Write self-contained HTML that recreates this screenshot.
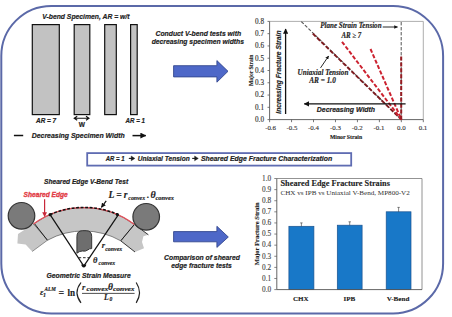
<!DOCTYPE html>
<html><head><meta charset="utf-8">
<style>
html,body{margin:0;padding:0;background:#fff;width:452px;height:317px;overflow:hidden}
svg{display:block}
.sbi{font-family:"Liberation Sans",sans-serif;font-weight:bold;font-style:italic;fill:#222;stroke:#222;stroke-width:0.18}
.ser{font-family:"Liberation Serif",serif;fill:#333}
.serb{font-family:"Liberation Serif",serif;font-weight:bold;fill:#222;stroke:#222;stroke-width:0.12}
.serbi{font-family:"Liberation Serif",serif;font-weight:bold;font-style:italic;fill:#222;stroke:#222;stroke-width:0.15}
</style></head><body>
<svg width="452" height="317" viewBox="0 0 452 317">
<defs>
<marker id="ah" viewBox="0 0 10 10" refX="9" refY="5" markerWidth="4" markerHeight="4" orient="auto-start-reverse"><path d="M0,0 L10,5 L0,10 z" fill="#111"/></marker>
<marker id="ahr" viewBox="0 0 10 10" refX="9" refY="5" markerWidth="4" markerHeight="4" orient="auto"><path d="M0,0 L10,5 L0,10 z" fill="#c8283a"/></marker>
</defs>
<!-- outer frame -->
<rect x="1.3" y="6" width="441.8" height="307.4" rx="50" ry="50" fill="none" stroke="#5b69a8" stroke-width="2"/>

<!-- ===== top-left specimens ===== -->
<text class="sbi" x="42.2" y="19.4" font-size="7" textLength="87.3" lengthAdjust="spacingAndGlyphs">V-bend Specimen, AR = w/t</text>
<g fill="#c2c2c2" stroke="#111" stroke-width="1.2">
<rect x="32.3" y="24.6" width="27" height="90"/>
<rect x="74.2" y="24.6" width="15.6" height="90"/>
<rect x="104.7" y="24.6" width="11.6" height="90"/>
<rect x="130.6" y="24.6" width="6.6" height="90"/>
</g>
<text class="sbi" x="36" y="123.3" font-size="6.5" textLength="20.2" lengthAdjust="spacingAndGlyphs">AR = 7</text>
<text class="sbi" x="125.5" y="123.2" font-size="6.5" textLength="19.4" lengthAdjust="spacingAndGlyphs">AR = 1</text>
<text class="sbi" x="78.8" y="126.9" font-size="6.5" textLength="6.2" lengthAdjust="spacingAndGlyphs" style="font-style:normal">W</text>
<path d="M74.2,118.2 L89,118.2 M77.2,116.2 L74.2,118.2 L77.2,120.2 M86,116.2 L89,118.2 L86,120.2" fill="none" stroke="#111" stroke-width="1.1"/>
<text class="sbi" x="31.7" y="137.9" font-size="7" textLength="93.1" lengthAdjust="spacingAndGlyphs">Decreasing Specimen Width</text>
<line x1="13.9" y1="135.5" x2="23.2" y2="135.5" stroke="#111" stroke-width="1.5"/>
<line x1="132.5" y1="135.6" x2="145.8" y2="135.6" stroke="#111" stroke-width="1.5" marker-end="url(#ah)"/>

<!-- ===== middle-top text & arrow ===== -->
<text class="sbi" x="155.5" y="35.7" font-size="7" textLength="85.7" lengthAdjust="spacingAndGlyphs">Conduct V-bend tests with</text>
<text class="sbi" x="151.7" y="43.8" font-size="7" textLength="92.3" lengthAdjust="spacingAndGlyphs">decreasing specimen widths</text>
<path d="M173.6,65.7 L216.9,65.7 L216.9,60.6 L228,71.3 L216.9,82.2 L216.9,76.9 L173.6,76.9 Z" fill="#4e68c8" stroke="#34488f" stroke-width="0.9"/>

<!-- ===== top-right chart ===== -->
<g id="chart1">
<line x1="269.6" y1="21.4" x2="423.3" y2="21.4" stroke="#999" stroke-width="0.8"/>
<line x1="423.3" y1="21.4" x2="423.3" y2="119.6" stroke="#999" stroke-width="0.8"/>
<line x1="269.6" y1="21.4" x2="269.6" y2="119.6" stroke="#555" stroke-width="0.9"/>
<line x1="269.6" y1="119.6" x2="423.3" y2="119.6" stroke="#555" stroke-width="0.9"/>
<g stroke="#555" stroke-width="0.8">
<line x1="267.5" y1="21.4" x2="269.6" y2="21.4"/>
<line x1="267.5" y1="33.67" x2="269.6" y2="33.67"/>
<line x1="267.5" y1="45.95" x2="269.6" y2="45.95"/>
<line x1="267.5" y1="58.22" x2="269.6" y2="58.22"/>
<line x1="267.5" y1="70.5" x2="269.6" y2="70.5"/>
<line x1="267.5" y1="82.77" x2="269.6" y2="82.77"/>
<line x1="267.5" y1="95.05" x2="269.6" y2="95.05"/>
<line x1="267.5" y1="107.32" x2="269.6" y2="107.32"/>
<line x1="267.5" y1="119.6" x2="269.6" y2="119.6"/>
<line x1="269.6" y1="119.6" x2="269.6" y2="122.2"/>
<line x1="291.56" y1="119.6" x2="291.56" y2="122.2"/>
<line x1="313.51" y1="119.6" x2="313.51" y2="122.2"/>
<line x1="335.47" y1="119.6" x2="335.47" y2="122.2"/>
<line x1="357.43" y1="119.6" x2="357.43" y2="122.2"/>
<line x1="379.39" y1="119.6" x2="379.39" y2="122.2"/>
<line x1="401.34" y1="119.6" x2="401.34" y2="122.2"/>
<line x1="423.3" y1="119.6" x2="423.3" y2="122.2"/>
</g>
<g class="ser" font-size="7.2" text-anchor="end" style="stroke:#333;stroke-width:0.15">
<text x="264" y="23.7">0.8</text>
<text x="264" y="35.97">0.7</text>
<text x="264" y="48.25">0.6</text>
<text x="264" y="60.52">0.5</text>
<text x="264" y="72.8">0.4</text>
<text x="264" y="85.07">0.3</text>
<text x="264" y="97.35">0.2</text>
<text x="264" y="109.62">0.1</text>
<text x="264" y="121.9">0.0</text>
</g>
<g class="ser" font-size="6.9" text-anchor="middle" style="stroke:#333;stroke-width:0.12">
<text x="270.6" y="130">-0.6</text>
<text x="292.0" y="130">-0.5</text>
<text x="313.5" y="130">-0.4</text>
<text x="335.4" y="130">-0.3</text>
<text x="357.3" y="130">-0.2</text>
<text x="379.0" y="130">-0.1</text>
<text x="401.3" y="130">0.0</text>
<text x="423.0" y="130">0.1</text>
</g>
<text class="serb" x="329.9" y="138.5" font-size="5.9" textLength="32.2" lengthAdjust="spacingAndGlyphs">Minor Strain</text>
<text class="serb" transform="translate(252.8,86) rotate(-90)" font-size="5.8" textLength="31.4" lengthAdjust="spacingAndGlyphs">Major Strain</text>

<!-- dashed reference lines -->
<line x1="301.3" y1="21.6" x2="401.4" y2="119.6" stroke="#555" stroke-width="1.1" stroke-dasharray="3.4,1.6"/>
<line x1="401.2" y1="22" x2="401.2" y2="119.6" stroke="#555" stroke-width="1" stroke-dasharray="3.4,1.6"/>
<line x1="312.8" y1="33.6" x2="401.4" y2="119.6" stroke="#7e1c20" stroke-width="1.9" stroke-dasharray="4.2,1.8"/>
<g stroke="#cc2230" stroke-width="2" stroke-dasharray="4,1.9" fill="none">
<line x1="342" y1="41.8" x2="401.4" y2="119.6"/>
<line x1="370.5" y1="49" x2="401.4" y2="119.6"/>
<line x1="401.2" y1="56.5" x2="401.2" y2="119.6" stroke="#961c22"/>
</g>
<text class="serbi" x="320.2" y="28.4" font-size="7.4" textLength="61.4" lengthAdjust="spacingAndGlyphs">Plane Strain Tension</text>
<line x1="382.7" y1="27" x2="397.5" y2="27" stroke="#111" stroke-width="0.9" marker-end="url(#ah)"/>
<text class="serbi" x="341.4" y="37.7" font-size="7.4" textLength="19.8" lengthAdjust="spacingAndGlyphs">AR ≥ 7</text>
<text class="serbi" x="297.5" y="74.5" font-size="7.4" textLength="50.9" lengthAdjust="spacingAndGlyphs">Uniaxial Tension</text>
<text class="serbi" x="309.2" y="83.3" font-size="7.4" textLength="26.6" lengthAdjust="spacingAndGlyphs">AR = 1.0</text>
<line x1="320.5" y1="67.9" x2="328.6" y2="56" stroke="#111" stroke-width="0.9" marker-end="url(#ah)"/>

<text class="sbi" transform="translate(280.6,113.7) rotate(-90)" font-size="7" textLength="83.2" lengthAdjust="spacingAndGlyphs">Increasing Fracture Strain</text>
<line x1="285.6" y1="114" x2="285.6" y2="29" stroke="#111" stroke-width="1.3" marker-end="url(#ah)"/>
<line x1="405.6" y1="103.9" x2="304.3" y2="103.9" stroke="#111" stroke-width="1.3" marker-end="url(#ah)"/>
<text class="sbi" x="316.8" y="112.3" font-size="6.7" textLength="58.3" lengthAdjust="spacingAndGlyphs">Decreasing Width</text>
</g>

<!-- ===== banner ===== -->
<rect x="87.2" y="153.1" width="264" height="12.5" fill="none" stroke="#5f6cb2" stroke-width="1.8"/>
<text class="sbi" x="105.8" y="161.2" font-size="6.3" textLength="18.8" lengthAdjust="spacingAndGlyphs">AR = 1</text>
<text class="sbi" x="137.7" y="161.2" font-size="6.3" textLength="52" lengthAdjust="spacingAndGlyphs">Uniaxial Tension</text>
<text class="sbi" x="200.9" y="161.2" font-size="6.3" textLength="131.3" lengthAdjust="spacingAndGlyphs">Sheared Edge Fracture Characterization</text>
<g fill="#1a1a1a" stroke="#1a1a1a" stroke-width="1.1">
<line x1="128.8" y1="158.4" x2="132.5" y2="158.4"/><path d="M131.2,156 L134.9,158.4 L131.2,160.8 Z" stroke-width="0.4"/>
<line x1="192.2" y1="158.4" x2="195.9" y2="158.4"/><path d="M194.6,156 L198.3,158.4 L194.6,160.8 Z" stroke-width="0.4"/>
</g>

<!-- ===== bottom-left diagram ===== -->
<text class="sbi" x="44" y="184.1" font-size="6.6" textLength="84.1" lengthAdjust="spacingAndGlyphs">Sheared Edge V-Bend Test</text>
<text class="sbi" x="23.6" y="197.3" font-size="6.6" textLength="44.1" lengthAdjust="spacingAndGlyphs" style="fill:#e23a44;stroke:#e23a44;stroke-width:0.3">Sheared Edge</text>
<line x1="44.6" y1="199.3" x2="44.6" y2="216.6" stroke="#c8283a" stroke-width="1.2" marker-end="url(#ahr)"/>

<!-- band extensions -->
<path d="M33.5,224 L18,234 L17.4,243.6 L25.6,244.5 L32.2,251.5 L47.5,240.2 Z" fill="#c6c6c6"/>
<path d="M134.5,224.5 L148.4,234.8 L143.4,236.3 L142,242 L144,248.3 L135,252 L120.7,240.8 Z" fill="#c6c6c6"/>
<line x1="134.5" y1="224.5" x2="148.4" y2="234.8" stroke="#222" stroke-width="0.9"/>
<line x1="120.7" y1="240.8" x2="135" y2="252" stroke="#222" stroke-width="0.9"/>
<line x1="47.5" y1="240.2" x2="32.2" y2="251.5" stroke="#555" stroke-width="0.6"/>
<!-- main band -->
<path d="M33.5,224 A85,85 0 0,1 134.5,224.5 L120.7,240.8 A75,75 0 0,0 47.5,240.2 Z" fill="#c6c6c6" stroke="#555" stroke-width="0.7"/>
<line x1="34.6" y1="223.8" x2="47.4" y2="240.2" stroke="#111" stroke-width="0.9"/>
<line x1="134" y1="224.8" x2="120.9" y2="240.7" stroke="#111" stroke-width="0.9"/>
<path d="M33.5,224 A85,85 0 0,1 134.5,224.5" fill="none" stroke="#e4505a" stroke-width="1.3"/>
<path d="M50.1,214.5 A85,85 0 0,1 117.7,214.3" fill="none" stroke="#111" stroke-width="1.5" stroke-dasharray="2.8,1.7"/>
<!-- rollers -->
<circle cx="21.5" cy="215.8" r="13.3" fill="#7a7a7a" stroke="#333" stroke-width="1.2"/>
<circle cx="146.2" cy="216.8" r="13.3" fill="#7a7a7a" stroke="#333" stroke-width="1.2"/>
<!-- punch -->
<path d="M76.9,253.2 L76.9,236.5 Q76.9,230.7 82.5,230.7 L86.2,230.7 Q91.7,230.7 91.7,236.5 L91.7,248.6 Q89.5,248.4 88,249.8 Q85.5,251.8 82.5,251 Q79.5,251 76.9,253.2 Z" fill="#6e6e6e" stroke="#2a2a2a" stroke-width="0.9"/>
<!-- V lines -->
<line x1="50.1" y1="214.7" x2="83.8" y2="266.2" stroke="#111" stroke-width="1.2"/>
<line x1="118.4" y1="214.7" x2="83.8" y2="266.2" stroke="#111" stroke-width="1.2"/>
<circle cx="50.1" cy="214.7" r="1.6" fill="#111"/>
<circle cx="117.4" cy="214.6" r="1.6" fill="#111"/>
<path d="M81.3,264.6 L86.3,264.6 Q86,267.4 83.8,267.4 Q81.6,267.4 81.3,264.6 Z" fill="#111"/>
<line x1="78.6" y1="257.7" x2="89" y2="257.7" stroke="#111" stroke-width="0.9" stroke-dasharray="2.6,1.8"/>
<text class="serbi" x="101.8" y="248.3" font-size="8.5">r</text>
<text class="serbi" x="105.2" y="250.6" font-size="6" textLength="17" lengthAdjust="spacingAndGlyphs">convex</text>
<text class="serbi" x="93.1" y="262.6" font-size="8.5">θ</text>
<text class="serbi" x="98.6" y="264.8" font-size="6" textLength="16.6" lengthAdjust="spacingAndGlyphs">convex</text>
<!-- L label -->
<text class="serbi" x="108.6" y="198.4" font-size="9.6">L</text>
<text class="serbi" x="116.2" y="198.4" font-size="9.6">=</text>
<text class="serbi" x="123.7" y="198.4" font-size="9.6">r</text>
<text class="serbi" x="128.3" y="199.8" font-size="6.2" textLength="16.8" lengthAdjust="spacingAndGlyphs">convex</text>
<text class="serbi" x="147" y="198.3" font-size="9.2">.</text>
<text class="serbi" x="150.6" y="198.3" font-size="10">θ</text>
<text class="serbi" x="155.4" y="199.8" font-size="6.2" textLength="18.6" lengthAdjust="spacingAndGlyphs">convex</text>
<line x1="106.2" y1="200.9" x2="101.4" y2="207.4" stroke="#111" stroke-width="1.2" marker-end="url(#ah)"/>

<text class="sbi" x="46.5" y="278.2" font-size="6.6" textLength="84.2" lengthAdjust="spacingAndGlyphs">Geometric Strain Measure</text>
<!-- formula -->
<text class="serbi" x="40" y="295.2" font-size="8.5">ε</text>
<text class="serbi" x="43.1" y="296.8" font-size="6">1</text>
<text class="serbi" x="44.6" y="291.4" font-size="5.4" textLength="11.3" lengthAdjust="spacingAndGlyphs">ALM</text>
<text class="serb" x="58.4" y="295.7" font-size="10">=</text>
<text class="serb" x="67.6" y="295.7" font-size="10" textLength="7.6" lengthAdjust="spacingAndGlyphs">ln</text>
<path d="M81,282.5 Q73,292.6 81,302.8" fill="none" stroke="#222" stroke-width="1.2"/>
<path d="M136.2,282.5 Q142.8,292.6 136.2,302.8" fill="none" stroke="#222" stroke-width="1.2"/>
<line x1="82" y1="293.4" x2="134.6" y2="293.4" stroke="#222" stroke-width="0.8"/>
<text class="serbi" x="82" y="289.6" font-size="8.5">r</text>
<text class="serbi" x="86.6" y="290.8" font-size="5.8" textLength="21.7" lengthAdjust="spacingAndGlyphs">convex</text>
<text class="serbi" x="107.9" y="289.9" font-size="9.5">θ</text>
<text class="serbi" x="113" y="290.8" font-size="5.8" textLength="21.6" lengthAdjust="spacingAndGlyphs">convex</text>
<text class="serbi" x="104" y="299.8" font-size="7.8">L</text>
<text class="serbi" x="109.6" y="301.2" font-size="5.6">0</text>

<!-- bottom middle arrow -->
<path d="M173.6,231.6 L216.9,231.6 L216.9,226.3 L228.3,237 L216.9,247.4 L216.9,241.8 L173.6,241.8 Z" fill="#4e68c8" stroke="#34488f" stroke-width="0.9"/>
<text class="sbi" x="164.1" y="259.8" font-size="7" textLength="75.8" lengthAdjust="spacingAndGlyphs">Comparison of sheared</text>
<text class="sbi" x="171.3" y="268.2" font-size="7" textLength="60.5" lengthAdjust="spacingAndGlyphs">edge fracture tests</text>

<!-- ===== bottom-right bar chart ===== -->
<g id="chart2">
<line x1="276.8" y1="178.5" x2="422" y2="178.5" stroke="#777" stroke-width="0.8"/>
<line x1="422" y1="178.5" x2="422" y2="289.6" stroke="#777" stroke-width="0.8"/>
<g fill="#1878c8" stroke="#1a5290" stroke-width="0.7">
<rect x="288.9" y="226.3" width="25" height="63.3"/>
<rect x="337.3" y="225.2" width="24.8" height="64.4"/>
<rect x="386.2" y="211.8" width="24.8" height="77.8"/>
</g>
<line x1="276.8" y1="178.5" x2="276.8" y2="289.6" stroke="#555" stroke-width="0.9"/>
<line x1="276.8" y1="289.6" x2="422" y2="289.6" stroke="#555" stroke-width="0.9"/>
<g stroke="#555" stroke-width="0.7">
<line x1="274.3" y1="178.5" x2="276.8" y2="178.5"/>
<line x1="274.3" y1="189.61" x2="276.8" y2="189.61"/>
<line x1="274.3" y1="200.72" x2="276.8" y2="200.72"/>
<line x1="274.3" y1="211.83" x2="276.8" y2="211.83"/>
<line x1="274.3" y1="222.94" x2="276.8" y2="222.94"/>
<line x1="274.3" y1="234.05" x2="276.8" y2="234.05"/>
<line x1="274.3" y1="245.16" x2="276.8" y2="245.16"/>
<line x1="274.3" y1="256.27" x2="276.8" y2="256.27"/>
<line x1="274.3" y1="267.38" x2="276.8" y2="267.38"/>
<line x1="274.3" y1="278.49" x2="276.8" y2="278.49"/>
<line x1="274.3" y1="289.6" x2="276.8" y2="289.6"/>
</g>
<g stroke="#333" stroke-width="0.6">
<line x1="301.4" y1="226.3" x2="301.4" y2="222.9"/><line x1="300.2" y1="222.9" x2="302.6" y2="222.9"/>
<line x1="349.7" y1="225.2" x2="349.7" y2="221.8"/><line x1="348.5" y1="221.8" x2="350.9" y2="221.8"/>
<line x1="398.6" y1="211.8" x2="398.6" y2="207.4"/><line x1="397.4" y1="207.4" x2="399.8" y2="207.4"/>
</g>
<g class="ser" font-size="7.3" text-anchor="end" style="fill:#444;stroke:#444;stroke-width:0.12">
<text x="271.2" y="180.8">1.0</text>
<text x="271.2" y="191.91">0.9</text>
<text x="271.2" y="203.02">0.8</text>
<text x="271.2" y="214.13">0.7</text>
<text x="271.2" y="225.24">0.6</text>
<text x="271.2" y="236.35">0.5</text>
<text x="271.2" y="247.46">0.4</text>
<text x="271.2" y="258.57">0.3</text>
<text x="271.2" y="269.68">0.2</text>
<text x="271.2" y="280.79">0.1</text>
<text x="271.2" y="291.9">0.0</text>
</g>
<text class="serb" x="280.5" y="186.4" font-size="8.2" textLength="109.4" lengthAdjust="spacingAndGlyphs">Sheared Edge Fracture Strains</text>
<text class="ser" x="280.5" y="195.3" font-size="6.7" textLength="129.3" lengthAdjust="spacingAndGlyphs" style="fill:#333">CHX vs IPB vs Uniaxial V-Bend, MP800-V2</text>
<g class="serb" font-size="7.1" text-anchor="middle">
<text x="300.8" y="301.4">CHX</text>
<text x="349.4" y="301.4">IPB</text>
<text x="398" y="301.4">V-Bend</text>
</g>
<text class="serb" transform="translate(259,265.3) rotate(-90)" font-size="6.5" textLength="63" lengthAdjust="spacingAndGlyphs">Major Fracture Strain</text>
</g>
</svg>
</body></html>
